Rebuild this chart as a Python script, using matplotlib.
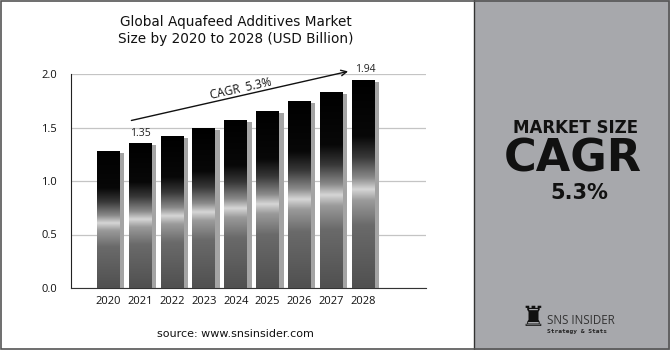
import numpy as np
import matplotlib
matplotlib.use('Agg')
import matplotlib.pyplot as plt
from matplotlib.colors import LinearSegmentedColormap
from matplotlib.patches import Rectangle

# chart data
years = ['2020', '2021', '2022', '2023', '2024', '2025', '2026', '2027', '2028']
values = [1.28, 1.35, 1.42, 1.49, 1.57, 1.65, 1.74, 1.83, 1.94]
cagr_text = 'CAGR  5.3%'
start_label = '1.35'
end_label = '1.94'

plt.rcParams['font.family'] = ['Open Sans', 'DejaVu Sans']

# metallic gradient, bottom -> top
metal = LinearSegmentedColormap.from_list('metal', [
    (0.00, '#505050'), (0.30, '#6a6a6a'), (0.42, '#9a9a9a'),
    (0.475, '#d6d6d6'), (0.53, '#8a8a8a'), (0.63, '#383838'),
    (0.73, '#080808'), (1.00, '#000000')])
grad = np.linspace(0, 1, 256).reshape(-1, 1)

fig = plt.figure(figsize=(6.7, 3.5), dpi=100)
fig.patch.set_facecolor('white')

# right gray panel and borders
fig.patches.append(Rectangle((474/670, 0), 1 - 474/670, 1, transform=fig.transFigure,
                             facecolor='#a7a8ac', edgecolor='none', zorder=0))
fig.lines.append(plt.Line2D([474/670, 474/670], [0, 1], transform=fig.transFigure,
                            color='#333333', lw=1))
fig.patches.append(Rectangle((0.001, 0.002), 0.997, 0.995, transform=fig.transFigure,
                             facecolor='none', edgecolor='#555555', lw=1.2, zorder=5))

ax = fig.add_axes([71/670, 1 - 288/350, 355/670, 214/350])

w = 0.72
for i, v in enumerate(values):
    # shadow on the right side
    ax.add_patch(Rectangle((i - w/2 + 0.14, 0), w, v - 0.015,
                           facecolor='#a4a4a4', edgecolor='none', zorder=2))
    ax.imshow(grad, cmap=metal, origin='lower', aspect='auto',
              extent=(i - w/2, i + w/2, 0, v), zorder=3)

ax.set_xticks(range(len(years)))
ax.set_xticklabels(years, fontsize=8, color='#111111')
ax.set_yticks([0, 0.5, 1.0, 1.5, 2.0])
ax.set_yticklabels(['0.0', '0.5', '1.0', '1.5', '2.0'], fontsize=8, color='#111111')
ax.tick_params(length=0, pad=6)
ax.tick_params(axis='y', pad=10)
ax.grid(axis='y', color='#c4c4c4', lw=0.9, zorder=0)
ax.set_axisbelow(True)
for s in ['top', 'right']:
    ax.spines[s].set_visible(False)
ax.spines['left'].set_color('#222222')
ax.spines['bottom'].set_color('#333333')
ax.set_xlim(-1.17, 9.97)
ax.set_ylim(0, 2.0)

# CAGR arrow
ax.annotate('', xy=(7.61, 2.03), xytext=(0.64, 1.56),
            arrowprops=dict(arrowstyle='->', color='#111111', lw=1.0),
            annotation_clip=False)
ax.text(4.15, 1.86, cagr_text, rotation=12.5, fontsize=8.5, ha='center', va='center',
        color='#111111')
ax.text(1, 1.44, start_label, fontsize=7.5, ha='center', va='center', color='#222222')
ax.text(7.75, 2.04, end_label, fontsize=7.5, ha='left', va='center', color='#222222',
        clip_on=False)

# title and source
fig.text(236/670, 1 - 26/350, 'Global Aquafeed Additives Market', fontsize=9.8,
         ha='center', va='baseline', color='#111111', family='DejaVu Sans')
fig.text(236/670, 1 - 43/350, 'Size by 2020 to 2028 (USD Billion)', fontsize=9.8,
         ha='center', va='baseline', color='#111111', family='DejaVu Sans')
fig.text(235/670, 1 - 337/350, 'source: www.snsinsider.com', fontsize=8,
         ha='center', va='baseline', color='#111111', family='DejaVu Sans')

# right panel text
fig.text(576/670, 1 - 133/350, 'MARKET SIZE', fontsize=12, fontweight='bold',
         ha='center', va='baseline', color='#111111', family='DejaVu Sans')
fig.text(573/670, 1 - 172/350, 'CAGR', fontsize=32, fontweight='bold',
         ha='center', va='baseline', color='#111111', family='DejaVu Sans')
fig.text(579/670, 1 - 199/350, '5.3%', fontsize=15, fontweight='bold',
         ha='center', va='baseline', color='#111111', family='DejaVu Sans')

# logo
fig.text(533/670, 1 - 318/350, '\u265c', fontsize=20, ha='center', va='center',
         color='#111111', family='DejaVu Sans')
fig.text(547/670, 1 - 320/350, 'SNS INSIDER', fontsize=8.3, ha='left', va='center',
         color='#333333')
fig.text(547/670, 1 - 331/350, 'Strategy & Stats', fontsize=4.5, ha='left', va='center',
         color='#222222', fontweight='bold', family='DejaVu Sans Mono')

fig.savefig('out.png', dpi=100)
